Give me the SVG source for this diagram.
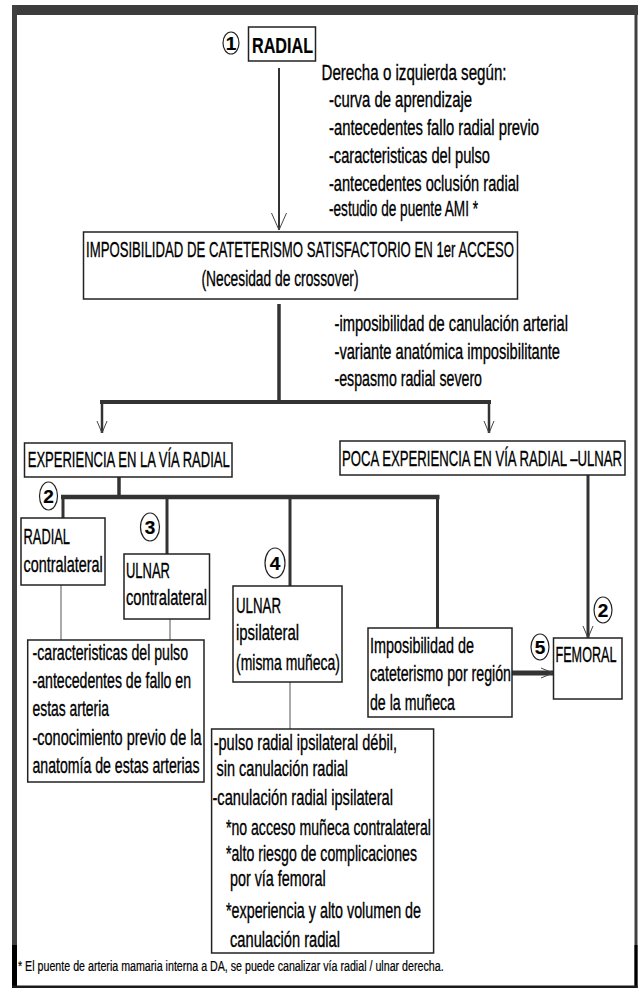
<svg xmlns="http://www.w3.org/2000/svg" width="638" height="990" viewBox="0 0 638 990">
<style>
text{font-family:"Liberation Sans Narrow","Liberation Sans","Arial Narrow",sans-serif;font-size:21.5px;fill:#000;stroke:#000;stroke-width:0.35px;}
.fn{font-size:14px;stroke-width:0.2px;}
.b{font-weight:bold;stroke-width:0.2px;}
.num{font-weight:bold;font-size:19px;text-anchor:middle;stroke-width:0.2px;}
.box{fill:#fff;stroke:#222;stroke-width:1.5;}
.circ{fill:#fff;stroke:#222;stroke-width:1.2;}
.thick{stroke:#333;fill:none;}
.thin{stroke:#555;stroke-width:1;fill:none;}
</style>
<defs>
<marker id="vbig" viewBox="-18 -9 20 18" markerWidth="20" markerHeight="18" refX="0" refY="0" orient="auto" markerUnits="userSpaceOnUse"><path d="M-17,-7.5 L0,0 L-17,7.5" fill="none" stroke="#444" stroke-width="1"/></marker>
<marker id="v" viewBox="-14 -7 16 14" markerWidth="16" markerHeight="14" refX="0" refY="0" orient="auto" markerUnits="userSpaceOnUse"><path d="M-12,-5 L0,0 L-12,5" fill="none" stroke="#444" stroke-width="1"/></marker>
</defs>
<rect width="638" height="990" fill="#fff"/>
<g id="frame">
<rect x="12" y="5" width="626" height="10" fill="#3c3c3c"/>
<rect x="12" y="5" width="5" height="983" fill="#404040"/>
<rect x="12" y="945" width="5" height="43" fill="#000"/>
<rect x="634.5" y="5" width="3" height="983" fill="#404040"/>
<rect x="634.5" y="945" width="3" height="43" fill="#000"/>
<rect x="12" y="985.5" width="625.5" height="2.5" fill="#1a1a1a"/>
</g>
<g id="connectors">
<line class="thick" x1="279" y1="68" x2="279" y2="230" stroke-width="2" marker-end="url(#vbig)"/>
<line class="thick" x1="279" y1="304" x2="279" y2="404" stroke-width="3.5"/>
<line class="thick" x1="100" y1="402" x2="491" y2="402" stroke-width="4"/>
<line class="thick" x1="102" y1="402" x2="102" y2="433" stroke-width="2.5" marker-end="url(#v)"/>
<line class="thick" x1="489" y1="402" x2="489" y2="433" stroke-width="2.5" marker-end="url(#v)"/>
<line class="thick" x1="119" y1="477" x2="119" y2="497" stroke-width="3.5"/>
<line class="thick" x1="61" y1="497" x2="439.5" y2="497" stroke-width="4.5"/>
<line class="thick" x1="63" y1="497" x2="63" y2="518" stroke-width="3"/>
<line class="thick" x1="167" y1="497" x2="167" y2="554" stroke-width="3"/>
<line class="thick" x1="290" y1="497" x2="290" y2="586" stroke-width="3"/>
<line class="thick" x1="437.5" y1="497" x2="437.5" y2="628" stroke-width="3"/>
<line class="thick" x1="588" y1="475" x2="588" y2="638" stroke-width="3" marker-end="url(#v)"/>
<line class="thick" x1="512" y1="673" x2="553" y2="673" stroke-width="5" marker-end="url(#v)"/>
<line class="thin" x1="61" y1="585" x2="61" y2="640"/>
<line class="thin" x1="170" y1="619" x2="170" y2="640"/>
<line class="thin" x1="290" y1="682" x2="290" y2="729"/>
</g>
<g id="n1">
<ellipse class="circ" cx="231" cy="43" rx="8" ry="11"/>
<text class="num" x="231" y="50">1</text>
<rect class="box" x="248.5" y="27" width="67" height="34"/>
<text class="b" x="252" y="53" font-size="24" textLength="61" lengthAdjust="spacingAndGlyphs">RADIAL</text>
</g>
<g id="criteria1">
<text x="321.5" y="80" textLength="185" lengthAdjust="spacingAndGlyphs">Derecha o izquierda según:</text>
<text x="329" y="107" textLength="143" lengthAdjust="spacingAndGlyphs">-curva de aprendizaje</text>
<text x="329" y="135" textLength="210" lengthAdjust="spacingAndGlyphs">-antecedentes fallo radial previo</text>
<text x="329" y="163" textLength="161" lengthAdjust="spacingAndGlyphs">-caracteristicas del pulso</text>
<text x="329" y="191" textLength="190" lengthAdjust="spacingAndGlyphs">-antecedentes oclusión radial</text>
<text x="329" y="216" textLength="149" lengthAdjust="spacingAndGlyphs">-estudio de puente AMI *</text>
</g>
<g id="imposibilidad">
<rect class="box" x="83.5" y="232" width="434" height="67"/>
<text x="86" y="257" textLength="428" lengthAdjust="spacingAndGlyphs">IMPOSIBILIDAD DE CATETERISMO SATISFACTORIO EN 1er ACCESO</text>
<text x="201.5" y="286" textLength="157" lengthAdjust="spacingAndGlyphs">(Necesidad de crossover)</text>
</g>
<g id="criteria2">
<text x="334.5" y="331" textLength="233.5" lengthAdjust="spacingAndGlyphs">-imposibilidad de canulación arterial</text>
<text x="334.5" y="359" textLength="225.5" lengthAdjust="spacingAndGlyphs">-variante anatómica imposibilitante</text>
<text x="334.5" y="386" textLength="147.5" lengthAdjust="spacingAndGlyphs">-espasmo radial severo</text>
</g>
<g id="experiencia">
<rect class="box" x="24.5" y="443" width="207.5" height="34"/>
<text x="27.7" y="467" textLength="202" lengthAdjust="spacingAndGlyphs">EXPERIENCIA EN LA VÍA RADIAL</text>
</g>
<g id="poca">
<rect class="box" x="340" y="441" width="285" height="34"/>
<text x="342" y="466" textLength="280" lengthAdjust="spacingAndGlyphs">POCA EXPERIENCIA EN VÍA RADIAL –ULNAR</text>
</g>
<g id="c2a">
<ellipse class="circ" cx="48.5" cy="496" rx="9" ry="14"/>
<text class="num" x="48.5" y="503">2</text>
</g>
<g id="radialContra">
<rect class="box" x="21" y="518" width="84" height="67"/>
<text x="23.6" y="544" textLength="46.4" lengthAdjust="spacingAndGlyphs">RADIAL</text>
<text x="23.6" y="572" textLength="79" lengthAdjust="spacingAndGlyphs">contralateral</text>
</g>
<g id="c3">
<ellipse class="circ" cx="150" cy="527" rx="9.5" ry="14"/>
<text class="num" x="150" y="534">3</text>
</g>
<g id="ulnarContra">
<rect class="box" x="124" y="554" width="85.5" height="65"/>
<text x="126" y="578" textLength="44" lengthAdjust="spacingAndGlyphs">ULNAR</text>
<text x="126" y="605" textLength="81" lengthAdjust="spacingAndGlyphs">contralateral</text>
</g>
<g id="c4">
<ellipse class="circ" cx="275" cy="563" rx="10" ry="15"/>
<text class="num" x="275" y="570">4</text>
</g>
<g id="ulnarIpsi">
<rect class="box" x="233" y="586" width="109" height="96"/>
<text x="236" y="613" textLength="45" lengthAdjust="spacingAndGlyphs">ULNAR</text>
<text x="236" y="640" textLength="63" lengthAdjust="spacingAndGlyphs">ipsilateral</text>
<text x="236" y="670" textLength="104" lengthAdjust="spacingAndGlyphs">(misma muñeca)</text>
</g>
<g id="imposMuneca">
<rect class="box" x="368" y="628" width="144" height="89"/>
<text x="370" y="653" textLength="104" lengthAdjust="spacingAndGlyphs">Imposibilidad de</text>
<text x="370" y="681" textLength="141" lengthAdjust="spacingAndGlyphs">cateterismo por región</text>
<text x="370" y="710" textLength="85" lengthAdjust="spacingAndGlyphs">de la muñeca</text>
</g>
<g id="c5">
<ellipse class="circ" cx="540" cy="647" rx="9" ry="13"/>
<text class="num" x="540" y="654">5</text>
</g>
<g id="c2b">
<ellipse class="circ" cx="603" cy="610" rx="9" ry="13"/>
<text class="num" x="603" y="617">2</text>
</g>
<g id="femoral">
<rect class="box" x="553.5" y="638" width="68.5" height="61"/>
<text x="555.5" y="662" textLength="61" lengthAdjust="spacingAndGlyphs">FEMORAL</text>
</g>
<g id="criteria3">
<rect class="box" x="27.7" y="640" width="176.3" height="142"/>
<text x="32.5" y="660" textLength="155.5" lengthAdjust="spacingAndGlyphs">-caracteristicas del pulso</text>
<text x="32.5" y="688" textLength="158.5" lengthAdjust="spacingAndGlyphs">-antecedentes de fallo en</text>
<text x="32.5" y="716" textLength="76.5" lengthAdjust="spacingAndGlyphs">estas arteria</text>
<text x="32.5" y="745" textLength="169" lengthAdjust="spacingAndGlyphs">-conocimiento previo de la</text>
<text x="32.5" y="773" textLength="167" lengthAdjust="spacingAndGlyphs">anatomía de estas arterias</text>
</g>
<g id="criteria4">
<rect class="box" x="211.6" y="729" width="222" height="224"/>
<text x="213.7" y="750" textLength="183.3" lengthAdjust="spacingAndGlyphs">-pulso radial ipsilateral débil,</text>
<text x="216.5" y="776" textLength="131.5" lengthAdjust="spacingAndGlyphs">sin canulación radial</text>
<text x="212.5" y="805" textLength="180.5" lengthAdjust="spacingAndGlyphs">-canulación radial ipsilateral</text>
<text x="226" y="835" textLength="205" lengthAdjust="spacingAndGlyphs">*no acceso muñeca contralateral</text>
<text x="226" y="861" textLength="191" lengthAdjust="spacingAndGlyphs">*alto riesgo de complicaciones</text>
<text x="230" y="886" textLength="95.6" lengthAdjust="spacingAndGlyphs">por vía femoral</text>
<text x="226" y="918" textLength="195" lengthAdjust="spacingAndGlyphs">*experiencia y alto volumen de</text>
<text x="230" y="947" textLength="110" lengthAdjust="spacingAndGlyphs">canulación radial</text>
</g>
<g id="footnote">
<text class="fn" x="18" y="971" textLength="425.6" lengthAdjust="spacingAndGlyphs">* El puente de arteria mamaria interna a DA, se puede canalizar vía radial / ulnar derecha.</text>
</g>
</svg>
